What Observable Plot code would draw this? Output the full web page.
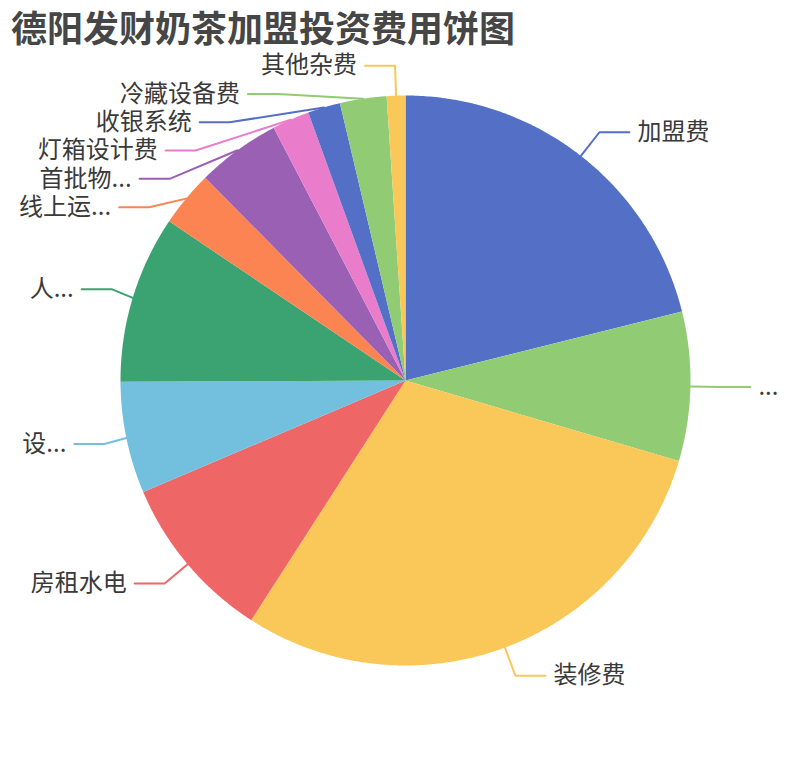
<!DOCTYPE html>
<html><head><meta charset="utf-8">
<script src="https://cdn.jsdelivr.net/npm/d3@7"></script>
<script src="https://cdn.jsdelivr.net/npm/@observablehq/plot@0.6"></script>
<style>
html,body{margin:0;padding:0;background:#fff;overflow:hidden}
#wrap{position:relative;width:810px;height:760px}
#title{position:absolute;left:0;top:0;height:50px;line-height:50px;padding-left:11px;font:bold 36px "Noto Sans CJK SC",sans-serif;color:#464646;white-space:nowrap;z-index:2}
#chart svg{display:block}
</style></head><body>
<div id="wrap">
<div id="title">德阳发财奶茶加盟投资费用饼图</div>
<div id="chart"></div>
</div>
<script>
// Data (万元)
const labels = ["加盟费","...","装修费","房租水电","设...","人...","线上运...","首批物...","灯箱设计费","收银系统","冷藏设备费","其他杂费"];
const values = [8, 3.2, 11.2, 3.6, 2.4, 3.6, 1.2, 1.8, 0.8, 0.7, 1.0, 0.4];
const palette = ["#5470c6","#91cc75","#fac858","#ee6666","#73c0de","#3ba272","#fc8452","#9a60b4","#ea7ccc","#5470c6","#91cc75","#fac858"];

// Layout constants (page coordinates)
const W = 810, H = 760;
const CX = 405, CY = 380, R = 285;
const LEN1 = 30, LEN2 = 30, GAP = 28.3, SHRINK = 8, TEXT_GAP = 8;

const total = d3.sum(values);
let acc = 0;
const slices = labels.map((name, i) => {
  const a0 = acc / total * 2 * Math.PI; acc += values[i];
  const a1 = acc / total * 2 * Math.PI;
  return {name, value: values[i], a0, a1, mid: (a0 + a1) / 2};
});

// Slice polygons
const polyPts = slices.flatMap(s => {
  const n = Math.max(2, Math.ceil((s.a1 - s.a0) / (Math.PI / 360)));
  const pts = [{name: s.name, x: CX, y: CY}];
  for (let k = 0; k <= n; k++) {
    const a = s.a0 + (s.a1 - s.a0) * k / n;
    pts.push({name: s.name, x: CX + R * Math.sin(a), y: CY - R * Math.cos(a)});
  }
  pts.push({name: s.name, x: CX, y: CY});
  return pts;
});

// Label layout (ECharts-like: push apart, then realign elbows on an ellipse)
const labs = slices.map(s => {
  const dir = Math.sin(s.mid) >= 0 ? 1 : -1;
  const r2 = R + LEN1;
  return {
    name: s.name, dir, mid: s.mid,
    ex: CX + R * Math.sin(s.mid), ey: CY - R * Math.cos(s.mid),
    bx: CX + r2 * Math.sin(s.mid), by: CY - r2 * Math.cos(s.mid)
  };
});
for (const d of [1, -1]) {
  const side = labs.filter(l => l.dir === d).sort((a, b) => a.by - b.by);
  let adjusted = false;
  for (let i = 1; i < side.length; i++) {
    if (side[i].by - side[i - 1].by < GAP) {
      side[i].by = side[i - 1].by + GAP;
      adjusted = true;
    }
  }
  if (!adjusted) continue;
  const rA = R + LEN1 - SHRINK;
  for (const semi of [side.filter(l => l.by < CY), side.filter(l => l.by >= CY)]) {
    if (!semi.length) continue;
    const far = semi.reduce((m, l) => Math.abs(l.by - CY) > Math.abs(m.by - CY) ? l : m);
    const fdy = Math.abs(far.by - CY), fdx = Math.abs(far.bx - CX);
    const rB = fdx < rA ? Math.sqrt(fdy * fdy / (1 - fdx * fdx / (rA * rA))) : rA;
    for (const l of semi) {
      const dy = l.by - CY;
      l.bx = CX + d * rA * Math.sqrt(Math.max(0, 1 - dy * dy / (rB * rB)));
    }
  }
}
for (const l of labs) l.tx = l.bx + l.dir * LEN2;

const linePts = labs.flatMap(l => [
  {name: l.name, x: l.ex, y: l.ey},
  {name: l.name, x: l.bx, y: l.by},
  {name: l.name, x: l.tx, y: l.by}
]);

const font = '"Noto Sans CJK SC", sans-serif';
const chart = Plot.plot({
  width: W, height: H, margin: 0,
  x: {domain: [0, W], range: [0, W], axis: null},
  y: {domain: [0, H], range: [0, H], axis: null},
  color: {domain: labels, range: palette},
  style: {fontFamily: font, background: "white"},
  marks: [
    Plot.line(polyPts, {x: "x", y: "y", z: "name", fill: "name", stroke: null, curve: "linear"}),
    Plot.line(linePts, {x: "x", y: "y", z: "name", stroke: "name", strokeWidth: 2, curve: "linear"}),
    Plot.text(labs.filter(l => l.dir > 0), {x: "tx", y: "by", text: "name", textAnchor: "start", dx: TEXT_GAP, fontSize: 24, fill: "#3a3a3a"}),
    Plot.text(labs.filter(l => l.dir < 0), {x: "tx", y: "by", text: "name", textAnchor: "end", dx: -TEXT_GAP, fontSize: 24, fill: "#3a3a3a"})
  ]
});
document.getElementById("chart").appendChild(chart);
</script>
</body></html>
